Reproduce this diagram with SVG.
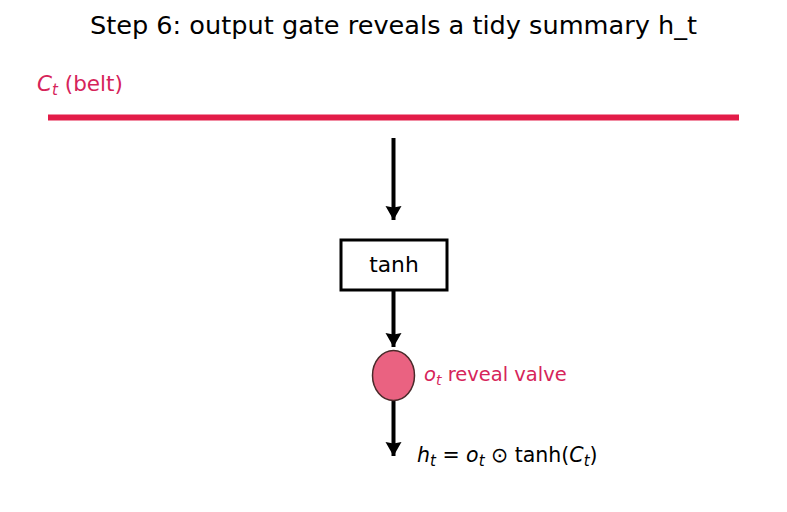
<svg xmlns="http://www.w3.org/2000/svg" width="787" height="512" viewBox="0 0 787 512">
<style>
text{font-family:"DejaVu Sans","Liberation Sans",sans-serif}
.t{font-size:25.6px;fill:#000}
.lbl{fill:#d6245a}
.arr{stroke:#000;stroke-width:4;fill:none;marker-end:url(#ah)}
</style>
<defs>
<marker id="ah" markerUnits="userSpaceOnUse" markerWidth="18" markerHeight="18" viewBox="0 0 18 18" refX="14" refY="9" orient="auto">
<path d="M0,1 L1.5,9 L0,17 L14,9 Z" fill="#000"/>
</marker>
</defs>
<rect width="787" height="512" fill="#fff"/>
<text class="t" x="393.5" y="34" text-anchor="middle">Step 6: output gate reveals a tidy summary h_t</text>
<g id="belt">
<line x1="48" y1="117.5" x2="739" y2="117.5" stroke="#e31c48" stroke-width="6"/>
<text class="lbl" x="37" y="91" font-size="21.5"><tspan font-style="italic">C</tspan><tspan font-style="italic" font-size="15" dy="4">t</tspan><tspan dy="-4"> (belt)</tspan></text>
</g>
<g id="connectors">
<line class="arr" x1="393.5" y1="138" x2="393.5" y2="220"/>
<line class="arr" x1="393.5" y1="290" x2="393.5" y2="347"/>
<line class="arr" x1="393.5" y1="400" x2="393.5" y2="456"/>
</g>
<g id="tanh">
<rect x="341" y="240" width="106" height="50" fill="#fff" stroke="#000" stroke-width="3"/>
<text x="394" y="272" font-size="21.8" text-anchor="middle">tanh</text>
</g>
<g id="valve">
<ellipse cx="393.5" cy="375.5" rx="21" ry="25" fill="#ea6281" stroke="#4a2a2a" stroke-width="1.5"/>
<text class="lbl" x="424" y="381" font-size="19.5"><tspan font-style="italic">o</tspan><tspan font-style="italic" font-size="14" dy="4">t</tspan><tspan dy="-4"> reveal valve</tspan></text>
</g>
<g id="output">
<text x="417" y="462" font-size="20.5"><tspan font-style="italic">h</tspan><tspan font-style="italic" font-size="15" dy="4">t</tspan><tspan dy="-4"> = </tspan><tspan font-style="italic">o</tspan><tspan font-style="italic" font-size="15" dy="4">t</tspan><tspan dy="-4"> ⊙ tanh(</tspan><tspan font-style="italic">C</tspan><tspan font-style="italic" font-size="15" dy="4">t</tspan><tspan dy="-4">)</tspan></text>
</g>
</svg>
